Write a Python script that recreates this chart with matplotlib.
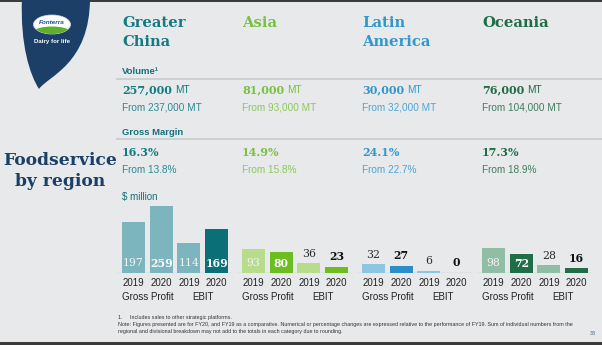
import matplotlib
matplotlib.use('Agg')
import matplotlib.pyplot as plt
from matplotlib.path import Path
from matplotlib.patches import PathPatch, Ellipse, Rectangle

# data
title_lines = [['Greater', 'China'], ['Asia'], ['Latin', 'America'], ['Oceania']]
volume_now = ['257,000', '81,000', '30,000', '76,000']
volume_prev = ['237,000', '93,000', '32,000', '104,000']
margin_now = ['16.3%', '14.9%', '24.1%', '17.3%']
margin_prev = ['13.8%', '15.8%', '22.7%', '18.9%']
gp_2019 = [197, 93, 32, 98]
gp_2020 = [259, 80, 27, 72]
ebit_2019 = [114, 36, 6, 28]
ebit_2020 = [169, 23, 0, 16]
years = ['2019', '2020', '2019', '2020']
groups = ['Gross Profit', 'EBIT']

# colours per region
text_col = ['#137a82', '#78c142', '#3197cc', '#1f6c46']
from_col = ['#2b8a90', '#8cc85a', '#4ea5d2', '#3f7e5c']
bar_cols = [['#7db5be', '#7db5be', '#7db5be', '#0b6f78'],
            ['#b6dc8c', '#6cbd20', '#b6dc8c', '#6cbd20'],
            ['#8cc6e3', '#2a8fc8', '#8cc6e3', '#2a8fc8'],
            ['#8fbea4', '#1f6e48', '#8fbea4', '#1f6e48']]

SANS = ['Liberation Sans', 'DejaVu Sans']
SERIF = 'DejaVu Serif'
NAVY = '#1b3f66'
TEAL = '#16707a'

W, H = 602, 345
fig = plt.figure(figsize=(W / 100, H / 100), dpi=100, facecolor='#e7e9eb')

# overlay axes in pixel units for the slide decoration
bg = fig.add_axes([0, 0, 1, 1])
bg.set_xlim(0, W)
bg.set_ylim(H, 0)
bg.axis('off')

# dark strips top and bottom
bg.add_patch(Rectangle((0, 0), W, 2, color='#3b3b3b', lw=0))
bg.add_patch(Rectangle((0, 342), W, 3, color='#3b3b3b', lw=0))

# the blue leaf with the logo
verts = [(22, -2), (20, 45), (30, 75), (39, 89),
         (48, 76), (90, 64), (90, -2), (22, -2)]
codes = [Path.MOVETO, Path.CURVE4, Path.CURVE4, Path.CURVE4,
         Path.CURVE4, Path.CURVE4, Path.CURVE4, Path.CLOSEPOLY]
bg.add_patch(PathPatch(Path(verts, codes), facecolor=NAVY, lw=0))
oval = Ellipse((52, 24.5), 37, 19, facecolor='white', edgecolor='#d8dde6', lw=0.5)
bg.add_patch(oval)
green = Ellipse((52, 31), 34, 9, facecolor='#5fae2e', lw=0)
bg.add_patch(green)
green.set_clip_path(oval)
bg.text(52, 22, 'Fonterra', color='#1d4f9e', fontsize=4.6, fontweight='bold',
        family=SANS, ha='center', va='center', style='italic')
bg.text(52, 41.5, 'Dairy for life', color='white', fontsize=4.4, fontweight='bold',
        family=SANS, ha='center', va='center')

# big title on the left
bg.text(60, 165, 'Foodservice', color=NAVY, fontsize=12.3, fontweight='bold',
        family=SERIF, ha='center', va='baseline')
bg.text(60, 185.5, 'by region', color=NAVY, fontsize=12.3, fontweight='bold',
        family=SERIF, ha='center', va='baseline')

# section lines
bg.plot([117, W], [79.3, 79.3], color='#cdd0d3', lw=1.4)
bg.plot([117, W], [139.3, 139.3], color='#cdd0d3', lw=1.4)

bg.text(122, 74, 'Volume\u00b9', color=TEAL, fontsize=6.8, fontweight='bold',
        family=SANS, va='baseline')
bg.text(122, 135, 'Gross Margin', color=TEAL, fontsize=6.8, fontweight='bold',
        family=SANS, va='baseline')
bg.text(122, 200, '$ million', color=TEAL, fontsize=7, family=SANS, va='baseline')

renderer = fig.canvas.get_renderer()
for g in range(4):
    x0 = 122 + 120 * g
    for k, line in enumerate(title_lines[g]):
        bg.text(x0, 27 + 19 * k, line, color=text_col[g], fontsize=10.6,
                fontweight='bold', family=SERIF, va='baseline')
    num = bg.text(x0, 93, volume_now[g], color=text_col[g], fontsize=8,
                  fontweight='bold', family=SERIF, va='baseline')
    w = num.get_window_extent(renderer).width
    bg.text(x0 + w + 3, 93, 'MT', color=text_col[g], fontsize=7.3,
            family=SANS, va='baseline')
    bg.text(x0, 110, 'From ' + volume_prev[g] + ' MT', color=from_col[g],
            fontsize=7.2, family=SANS, va='baseline')
    bg.text(x0, 156, margin_now[g], color=text_col[g], fontsize=8,
            fontweight='bold', family=SERIF, va='baseline')
    bg.text(x0, 173, 'From ' + margin_prev[g], color=from_col[g],
            fontsize=7.2, family=SANS, va='baseline')

# bar chart axes, 27.7 px between bars, 120 px between regions
base_y = 272.5
px_per_unit = 0.255
step = 27.7
gap = 120 / step
x_left, x_right = 117, 597
ax = fig.add_axes([x_left / W, (H - base_y) / H, (x_right - x_left) / W,
                   300 * px_per_unit / H])
ax.set_ylim(0, 300)
ax.set_xlim(-(133.5 - x_left) / step, (x_right - 133.5) / step)
ax.axis('off')

for g in range(4):
    vals = [gp_2019[g], gp_2020[g], ebit_2019[g], ebit_2020[g]]
    xs = [g * gap + i for i in range(4)]
    ax.bar(xs, vals, width=0.83, color=bar_cols[g], zorder=2)
    ax.hlines(0, xs[0] - 0.6, xs[3] + 0.55, color='#c4c7c9', lw=1, zorder=1)
    for i, (x, v) in enumerate(zip(xs, vals)):
        bold = 'bold' if i % 2 else 'normal'
        if v >= 60:
            ax.annotate(str(v), (x, 0), xytext=(0, 6.8), textcoords='offset points',
                        ha='center', va='center', fontsize=7.8, family=SERIF,
                        fontweight=bold, color='white' if i % 2 else '#f2f4f4')
        else:
            ax.annotate(str(v), (x, v), xytext=(0, 7), textcoords='offset points',
                        ha='center', va='center', fontsize=7.8, family=SERIF,
                        fontweight=bold, color='#111111' if i % 2 else '#2a2a2a')
        ax.annotate(years[i], (x, 0), xytext=(0, -7.6), textcoords='offset points',
                    ha='center', va='center', fontsize=7, family=SANS, color='#222222',
                    annotation_clip=False)
    for j, name in enumerate(groups):
        ax.annotate(name, ((xs[2 * j] + xs[2 * j + 1]) / 2, 0), xytext=(0, -17.4),
                    textcoords='offset points', ha='center', va='center',
                    fontsize=7, family=SANS, color='#222222', annotation_clip=False)

# footnotes
notes = ['1.     Includes sales to other strategic platforms.',
         'Note: Figures presented are for FY20, and FY19 as a comparative. Numerical or percentage '
         'changes are expressed relative to the performance of FY19. Sum of individual numbers from the',
         'regional and divisional breakdown may not add to the totals in each category due to rounding.']
for k, n in enumerate(notes):
    bg.text(118, 319 + 6.8 * k, n, fontsize=3.85, family=SANS, color='#333333',
            va='baseline')
bg.text(596, 335, '38', fontsize=3.8, family=SANS, color=TEAL, ha='right', va='baseline')

fig.savefig('out.png', dpi=100, facecolor=fig.get_facecolor())
